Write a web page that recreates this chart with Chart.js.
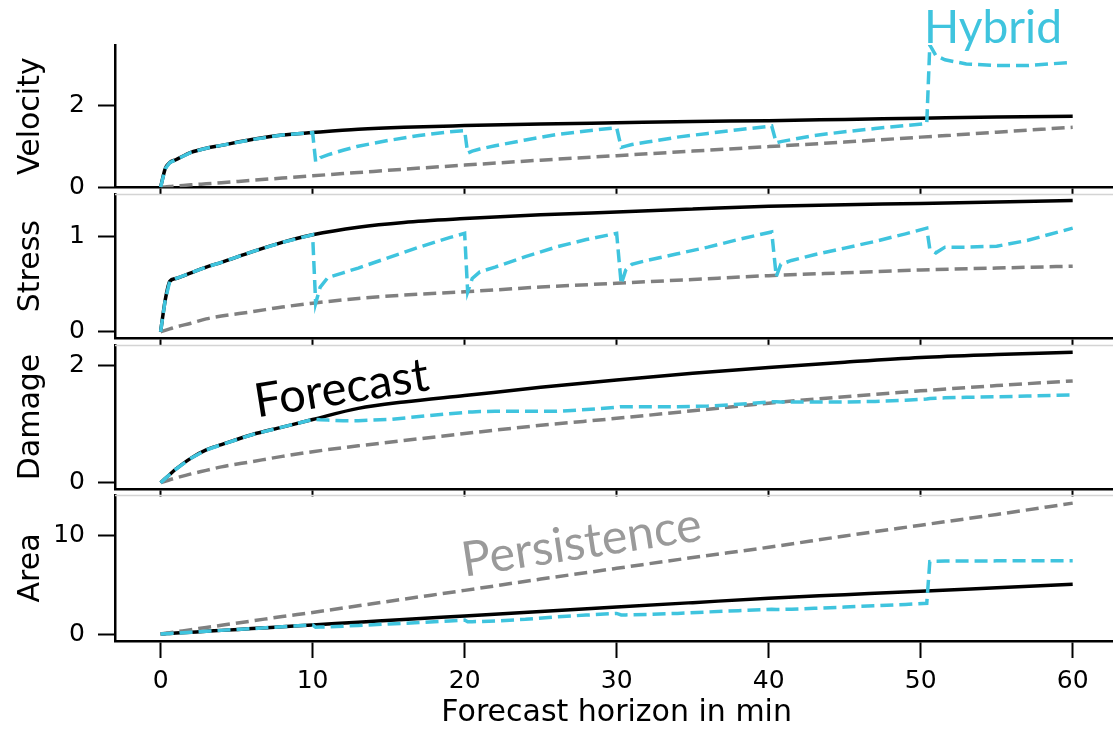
<!DOCTYPE html>
<html>
<head>
<meta charset="utf-8">
<script src="https://cdn.jsdelivr.net/npm/chart.js@4.4.1/dist/chart.umd.min.js"></script>
<style>
html,body{margin:0;padding:0;background:#fff;overflow:hidden;width:1113px;height:729px;}
canvas{position:absolute;left:0;top:0;}
</style>
</head>
<body>
<canvas id="c1"></canvas>
<canvas id="c2"></canvas>
<canvas id="c3"></canvas>
<canvas id="c4"></canvas>
<script>
// ---------- data ----------
const xBase = [0,0.3,0.6,1,2,3,4,6,8,10,13,16,20,25,30,35,40,45,50,55,60];
const xHybrid = [0,0.3,0.6,1,2,3,4,6,8,10,
  10.2,10.5,11,12,13,15,17,19,20,
  20.2,20.5,21,22,24,26,28,30,
  30.3,30.6,31,32,34,36,38,40.2,
  40.5,40.8,41.5,43,45,47,49,50.4,
  50.6,51,51.6,53,55,57,60];
const xTickValues = [0,10,20,30,40,50,60];

const velocityForecast = [0,0.45,0.60,0.67,0.85,0.95,1.02,1.16,1.27,1.33,1.41,1.46,1.50,1.54,1.57,1.60,1.62,1.65,1.68,1.71,1.73];
const velocityPersistence = [0,0.01,0.02,0.03,0.06,0.085,0.11,0.17,0.225,0.28,0.36,0.44,0.54,0.66,0.77,0.88,0.99,1.10,1.22,1.34,1.46];
const velocityHybrid = [0,0.45,0.60,0.67,0.85,0.95,1.02,1.16,1.27,1.33,
  0.62,0.72,0.79,0.90,1.00,1.14,1.26,1.35,1.38,
  0.83,0.88,0.93,1.01,1.15,1.28,1.37,1.45,
  0.97,1.00,1.04,1.10,1.22,1.31,1.40,1.49,
  1.08,1.11,1.16,1.26,1.35,1.43,1.50,1.55,
  3.46,3.20,3.10,3.00,2.96,2.96,3.04];

const stressForecast = [0,0.33,0.53,0.56,0.62,0.68,0.73,0.84,0.94,1.02,1.10,1.15,1.19,1.23,1.26,1.29,1.32,1.335,1.35,1.365,1.38];
const stressPersistence = [0,0.015,0.03,0.05,0.09,0.135,0.165,0.21,0.26,0.30,0.35,0.385,0.42,0.47,0.51,0.55,0.59,0.62,0.65,0.67,0.69];
const stressHybrid = [0,0.33,0.53,0.56,0.62,0.68,0.73,0.84,0.94,1.02,
  0.30,0.47,0.57,0.62,0.67,0.78,0.89,0.99,1.035,
  0.42,0.56,0.63,0.68,0.79,0.89,0.97,1.035,
  0.50,0.65,0.71,0.75,0.82,0.89,0.97,1.05,
  0.58,0.71,0.75,0.81,0.88,0.95,1.03,1.09,
  0.87,0.83,0.89,0.89,0.90,0.96,1.09];

const damageForecast = [0,0.07,0.14,0.23,0.42,0.56,0.65,0.82,0.95,1.08,1.27,1.38,1.49,1.63,1.755,1.87,1.97,2.06,2.14,2.19,2.23];
const damagePersistence = [0,0.025,0.05,0.08,0.15,0.21,0.27,0.36,0.45,0.53,0.63,0.72,0.84,0.98,1.10,1.23,1.36,1.47,1.57,1.66,1.74];
const damageHybrid = [0,0.07,0.14,0.23,0.42,0.56,0.65,0.82,0.95,1.08,
  1.08,1.075,1.07,1.06,1.06,1.08,1.13,1.18,1.20,
  1.21,1.21,1.215,1.22,1.22,1.22,1.25,1.29,
  1.30,1.30,1.30,1.30,1.30,1.31,1.34,1.385,
  1.385,1.38,1.38,1.38,1.38,1.39,1.41,1.43,
  1.44,1.445,1.45,1.46,1.47,1.48,1.50];

const areaForecast = [0,0.03,0.06,0.09,0.18,0.27,0.37,0.55,0.74,0.92,1.20,1.47,1.84,2.30,2.75,3.20,3.65,4.01,4.37,4.72,5.07];
const areaPersistence = [0,0.07,0.13,0.22,0.44,0.67,0.89,1.33,1.78,2.2,2.88,3.56,4.45,5.6,6.7,7.8,8.85,10.0,11.1,12.2,13.35];
const areaHybrid = [0,0.03,0.06,0.09,0.18,0.27,0.37,0.55,0.74,0.92,
  0.70,0.71,0.73,0.80,0.87,1.02,1.17,1.33,1.42,
  1.25,1.25,1.28,1.33,1.50,1.75,1.93,2.10,
  1.95,1.95,1.97,2.00,2.10,2.25,2.38,2.52,
  2.50,2.50,2.53,2.62,2.75,2.88,3.02,3.13,
  7.38,7.42,7.44,7.45,7.46,7.47,7.48];

const velocityTicks = [0,2];
const stressTicks = [0,1];
const damageTicks = [0,2];
const areaTicks = [0,10];

const panelLabels = ['Velocity','Stress','Damage','Area'];
const xAxisLabel = 'Forecast horizon in min';
const seriesNames = ['Hybrid','Persistence','Forecast'];

// ---------- styles / layout ----------
const CYAN = '#3fc4de';
const GRAY = '#808080';
const CANVAS_W = 1125;
const AREA_RIGHT = 1118.3;
const TICK_FONT = {family:'DejaVu Sans', size:25};
const TITLE_FONT = {family:'DejaVu Sans', size:30};

const panels = [
  {id:'c1', label:panelLabels[0], fc:velocityForecast, ps:velocityPersistence, hy:velocityHybrid, ticks:velocityTicks, min:0, max:3.46, top:45, bottom:187.3,
   notes:[{text:seriesNames[0], x:50.22, y:3.507, angle:0, width:138, color:CYAN}]},
  {id:'c2', label:panelLabels[1], fc:stressForecast, ps:stressPersistence, hy:stressHybrid, ticks:stressTicks, min:-0.069, max:1.449, top:194, bottom:338.3, notes:[]},
  {id:'c3', label:panelLabels[2], fc:damageForecast, ps:damagePersistence, hy:damageHybrid, ticks:damageTicks, min:-0.108, max:2.354, top:345, bottom:489,
   notes:[{text:seriesNames[2], x:6.34, y:1.115, angle:-9, width:176, color:'#000'}]},
  {id:'c4', label:panelLabels[3], fc:areaForecast, ps:areaPersistence, hy:areaHybrid, ticks:areaTicks, min:-0.714, max:14.18, top:495, bottom:641, last:true,
   notes:[{text:seriesNames[1], x:19.98, y:5.85, angle:-8.7, width:242, color:'#9a9a9a'}]}
];

const topLinePlugin = {
  id:'topLine',
  afterDraw(chart, args, opts) {
    if (!opts.show) return;
    const {ctx, chartArea} = chart;
    ctx.save();
    ctx.strokeStyle = '#d4d4d4';
    ctx.lineWidth = 1.5;
    ctx.beginPath();
    ctx.moveTo(chartArea.left, chartArea.top + 0.5);
    ctx.lineTo(chartArea.right, chartArea.top + 0.5);
    ctx.stroke();
    ctx.restore();
  }
};

const notesPlugin = {
  id:'notes',
  afterDatasetsDraw(chart, args, opts) {
    const {ctx} = chart;
    (opts.items || []).forEach(n => {
      const px = chart.scales.x.getPixelForValue(n.x);
      const py = chart.scales.y.getPixelForValue(n.y);
      ctx.save();
      ctx.font = '50px Lato';
      const w = ctx.measureText(n.text).width;
      const size = 50 * n.width / w;
      ctx.font = size.toFixed(2) + 'px Lato';
      ctx.fillStyle = n.color;
      ctx.textAlign = 'left';
      ctx.textBaseline = 'alphabetic';
      ctx.translate(px, py);
      ctx.rotate(n.angle * Math.PI / 180);
      ctx.fillText(n.text, 0, 0);
      ctx.restore();
    });
  }
};

function pts(xs, ys) { return xs.map((x, i) => ({x: x, y: ys[i]})); }

panels.forEach((p, idx) => {
  const canvas = document.getElementById(p.id);
  const H = p.last ? 740 : Math.ceil(p.bottom + 20);
  const xh = H - p.bottom;
  canvas.width = CANVAS_W; canvas.height = H;
  canvas.style.width = CANVAS_W + 'px'; canvas.style.height = H + 'px';
  new Chart(canvas, {
    type:'line',
    data:{datasets:[
      {label:seriesNames[0], data:pts(xHybrid, p.hy), borderColor:CYAN, borderWidth:3.5, borderDash:[13,6], pointRadius:0, tension:0, fill:false},
      {label:seriesNames[1], data:pts(xBase, p.ps), borderColor:GRAY, borderWidth:3.5, borderDash:[13,6], pointRadius:0, cubicInterpolationMode:'monotone', fill:false},
      {label:seriesNames[2], data:pts(xBase, p.fc), borderColor:'#000', borderWidth:3.5, pointRadius:0, cubicInterpolationMode:'monotone', fill:false}
    ]},
    options:{
      responsive:false, animation:false, events:[],
      layout:{padding:{top:p.top, left:0, right:CANVAS_W - AREA_RIGHT, bottom:0}},
      plugins:{legend:{display:false}, tooltip:{enabled:false}, topLine:{show: idx > 0}, notes:{items:p.notes}},
      scales:{
        x:{type:'linear', min:-3, max:63,
          afterBuildTicks:s => { s.ticks = xTickValues.map(v => ({value:v})); },
          afterFit:s => { s.height = xh; s.paddingLeft = 0; s.paddingRight = 0; },
          grid:{drawOnChartArea:false, drawTicks:true, tickLength:p.last ? 17 : 7.5, tickWidth:2, tickColor:'#000'},
          border:{display:true, color:'#000', width:2.5},
          ticks:{display:!!p.last, font:TICK_FONT, color:'#000', padding:8, maxRotation:0, autoSkip:false},
          title:{display:!!p.last, text:xAxisLabel, font:TITLE_FONT, color:'#000', padding:{top:0, bottom:8.8}}
        },
        y:{type:'linear', min:p.min, max:p.max,
          afterBuildTicks:s => { s.ticks = p.ticks.map(v => ({value:v})); },
          afterFit:s => { s.width = 115; s.paddingTop = 0; s.paddingBottom = 0; },
          grid:{drawOnChartArea:false, drawTicks:true, tickLength:17, tickWidth:2, tickColor:'#000'},
          border:{display:true, color:'#000', width:2.5},
          ticks:{font:TICK_FONT, color:'#000', padding:13},
          title:{display:true, text:p.label, font:TITLE_FONT, color:'#000', padding:{top:13, bottom:0}}
        }
      }
    },
    plugins:[topLinePlugin, notesPlugin]
  });
});
</script>
</body>
</html>
